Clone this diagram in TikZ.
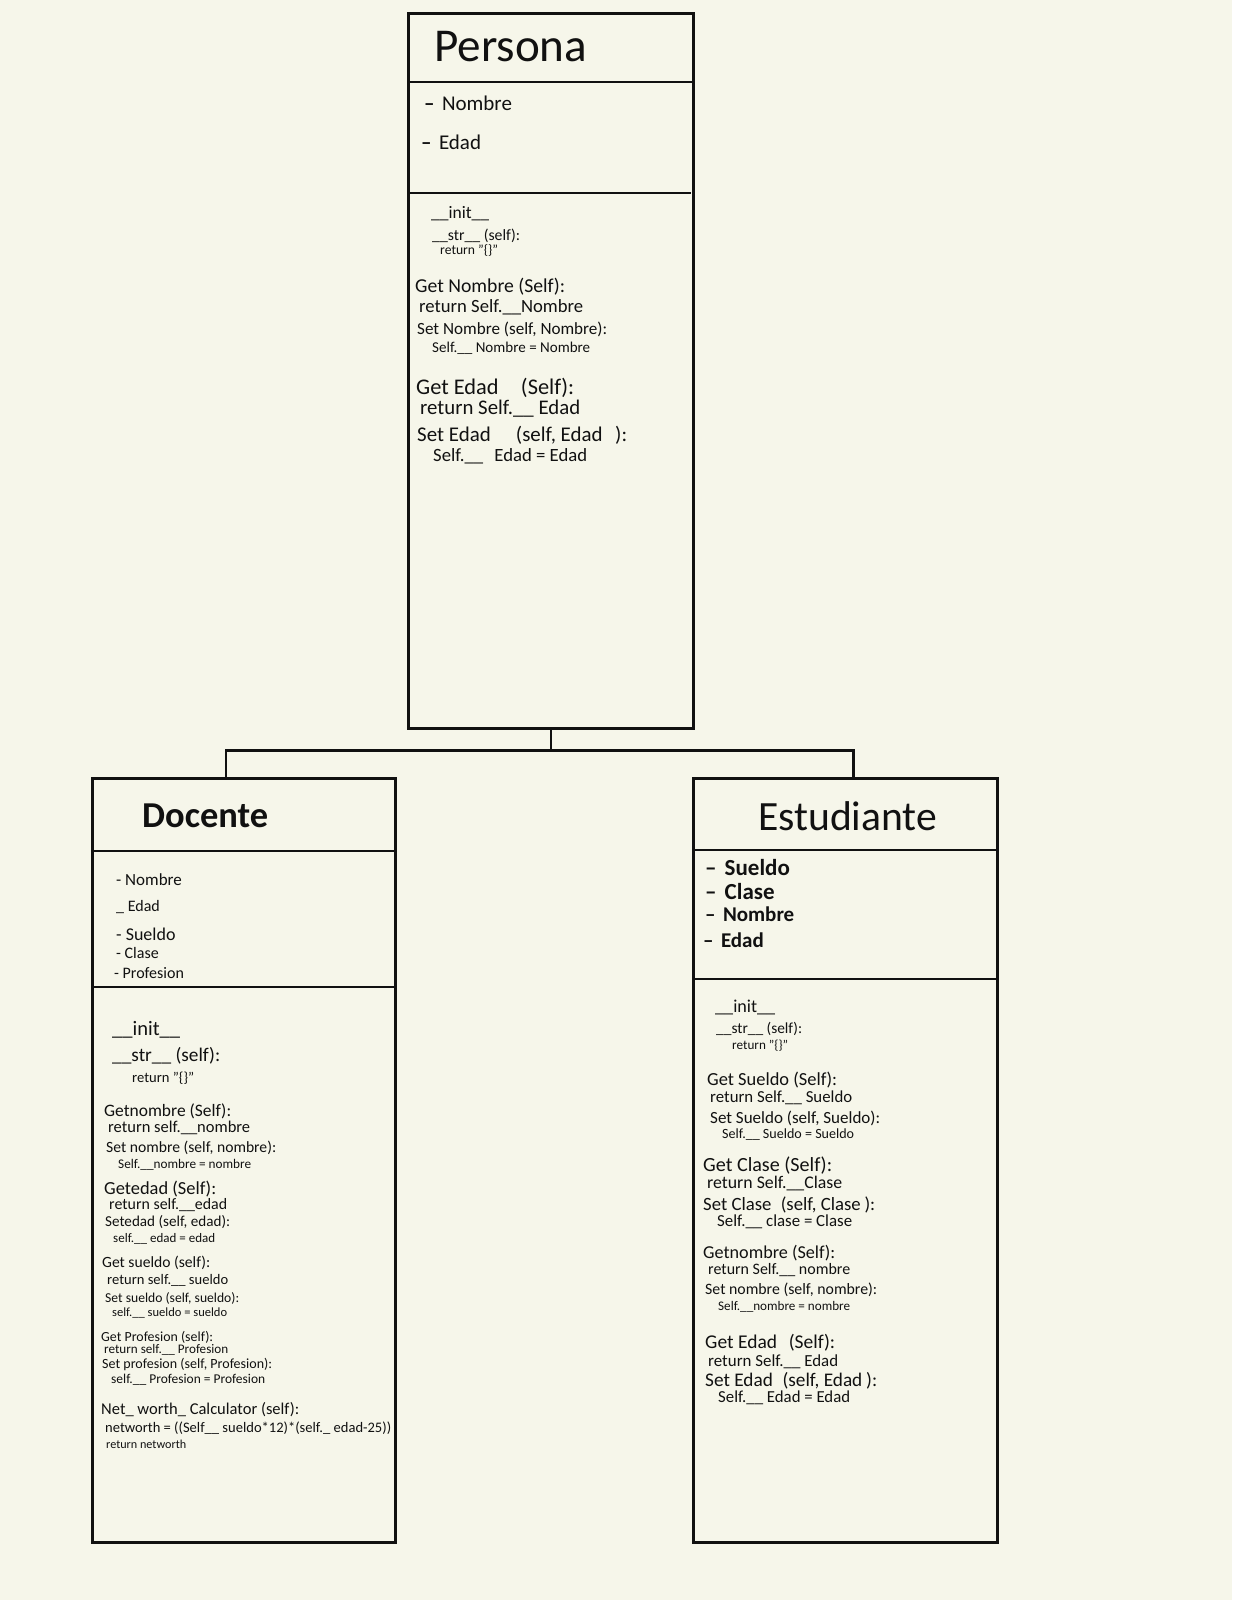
\documentclass[tikz,border=0pt]{standalone}
\usepackage{fontspec}
\setmainfont{Carlito}
\usepackage{graphicx}
\definecolor{paper}{RGB}{246,246,234}
\definecolor{ink}{RGB}{17,17,17}
\newcounter{tcnt}
\newcommand{\tx}[4]{\stepcounter{tcnt}\node[txt] (t\arabic{tcnt}) at (#1,#2) {\resizebox{#3pt}{!}{#4}};}
\newcommand{\fx}[4]{\stepcounter{tcnt}\node[txt, font=#3] (t\arabic{tcnt}) at (#1,#2) {#4};}
\newcommand{\dsh}{\textbf{–}\hspace{0.35em}}
\tikzset{
  cls/.style={draw=ink, line width=2.6pt, fill=paper, anchor=north west, inner sep=0pt},
  conn/.style={draw=ink, line width=2.4pt},
  divh/.style={draw=ink, line width=2.6pt},
  diva/.style={draw=ink, line width=1.6pt},
  txt/.style={anchor=west, inner sep=0pt, text=ink},
  ttl/.style={anchor=base west, inner sep=0pt, text=ink}
}
\begin{document}
\begin{tikzpicture}[x=1pt, y=-1pt]
\fill[paper] (0,0) rectangle (1232,1600);
\useasboundingbox (0,0) rectangle (1232,1600);

% class boxes
\node[cls, minimum width=285pt, minimum height=715pt] (persona) at (407,12) {};
\node[cls, minimum width=303pt, minimum height=764pt] (docente) at (91,777) {};
\node[cls, minimum width=304pt, minimum height=764pt] (estudiante) at (692,777) {};

% dividers
\draw[divh] ([yshift=-70pt]persona.north west) -- ([yshift=-70pt]persona.north east);
\draw[diva] ([yshift=-181pt]persona.north west) -- ([yshift=-181pt,xshift=-4pt]persona.north east);
\draw[divh] ([yshift=-74pt]docente.north west) -- ([yshift=-74pt]docente.north east);
\draw[diva] ([yshift=-210pt]docente.north west) -- ([yshift=-210pt]docente.north east);
\draw[divh] ([yshift=-73pt]estudiante.north west) -- ([yshift=-73pt]estudiante.north east);
\draw[diva] ([yshift=-202pt]estudiante.north west) -- ([yshift=-202pt]estudiante.north east);

% connectors
\draw[conn] (persona.south) -- ++(0,21) coordinate (bus);
\draw[conn] (bus) -| ([xshift=-18pt]docente.north);
\draw[conn] (bus) -| ([xshift=8pt]estudiante.north);

% ---------- Persona ----------
\node[ttl] (ptitle) at (434,62) {\resizebox{153pt}{!}{Persona}};
\fx{424}{103}{\fontsize{21}{24}\selectfont}{\dsh Nombre}
\fx{421}{142}{\fontsize{21}{24}\selectfont}{\dsh Edad}
\tx{431}{214}{58}{\_\_init\_\_}
\tx{432}{236}{88}{\_\_str\_\_ (self):}
\tx{440}{251}{58}{return "\{\}"}
\tx{415}{287}{150}{Get Nombre (Self):}
\tx{419}{307}{164}{return Self.\_\_Nombre}
\tx{417}{329}{190}{Set Nombre (self, Nombre):}
\tx{432}{348}{158}{Self.\_\_ Nombre = Nombre}
\tx{416}{388}{158}{Get Edad\hspace{1em}(Self):}
\tx{420}{409}{160}{return Self.\_\_ Edad}
\tx{417}{435}{210}{Set Edad\hspace{1.2em}(self, Edad\hspace{0.6em}):}
\tx{433}{456}{154}{Self.\_\_\hspace{0.6em}Edad = Edad}

% ---------- Docente ----------
\node[ttl] (dtitle) at (142,827) {\resizebox{126pt}{!}{\bfseries Docente}};
\fx{116}{880}{\fontsize{17}{20}\selectfont}{- Nombre}
\fx{116}{907}{\fontsize{16}{20}\selectfont}{\_ Edad}
\fx{116}{934}{\fontsize{18}{20}\selectfont}{- Sueldo}
\fx{116}{953}{\fontsize{16}{20}\selectfont}{- Clase}
\fx{114}{973}{\fontsize{16}{20}\selectfont}{- Profesion}
\tx{112}{1030}{68}{\_\_init\_\_}
\tx{112}{1056}{108}{\_\_str\_\_ (self):}
\tx{132}{1078}{62}{return "\{\}"}
\tx{104}{1111}{127}{Getnombre (Self):}
\tx{108}{1128}{142}{return self.\_\_nombre}
\tx{106}{1148}{170}{Set nombre (self, nombre):}
\tx{118}{1165}{133}{Self.\_\_nombre = nombre}
\tx{104}{1189}{112}{Getedad (Self):}
\tx{109}{1205}{118}{return self.\_\_edad}
\tx{105}{1222}{125}{Setedad (self, edad):}
\tx{113}{1239}{102}{self.\_\_ edad = edad}
\tx{102}{1263}{108}{Get sueldo (self):}
\tx{107}{1280}{121}{return self.\_\_ sueldo}
\tx{105}{1298}{134}{Set sueldo (self, sueldo):}
\tx{112}{1313}{115}{self.\_\_ sueldo = sueldo}
\tx{101}{1337}{112}{Get Profesion (self):}
\tx{104}{1350}{124}{return self.\_\_ Profesion}
\tx{102}{1364}{170}{Set profesion (self, Profesion):}
\tx{111}{1380}{154}{self.\_\_ Profesion = Profesion}
\tx{101}{1410}{198}{Net\_ worth\_ Calculator (self):}
\tx{105}{1428}{286}{networth = ((Self\_\_ sueldo*12)*(self.\_ edad-25))}
\tx{106}{1444}{80}{return networth}

% ---------- Estudiante ----------
\node[ttl] (etitle) at (758,830) {\resizebox{179pt}{!}{Estudiante}};
\fx{705}{868}{\fontsize{23}{26}\selectfont\bfseries}{\dsh Sueldo}
\fx{705}{892}{\fontsize{23}{26}\selectfont\bfseries}{\dsh Clase}
\fx{705}{914}{\fontsize{21}{26}\selectfont\bfseries}{\dsh Nombre}
\fx{703}{940}{\fontsize{21}{26}\selectfont\bfseries}{\dsh Edad}
\tx{715}{1007}{60}{\_\_init\_\_}
\tx{716}{1029}{86}{\_\_str\_\_ (self):}
\tx{732}{1046}{56}{return "\{\}"}
\tx{707}{1080}{130}{Get Sueldo (Self):}
\tx{710}{1098}{142}{return Self.\_\_ Sueldo}
\tx{710}{1118}{170}{Set Sueldo (self, Sueldo):}
\tx{722}{1135}{132}{Self.\_\_ Sueldo = Sueldo}
\tx{703}{1166}{129}{Get Clase (Self):}
\tx{707}{1184}{135}{return Self.\_\_Clase}
\tx{703}{1205}{172}{Set Clase\hspace{0.5em}(self, Clase\hspace{0.2em}):}
\tx{717}{1222}{135}{Self.\_\_ clase = Clase}
\tx{703}{1253}{132}{Getnombre (Self):}
\tx{708}{1270}{142}{return Self.\_\_ nombre}
\tx{705}{1290}{172}{Set nombre (self, nombre):}
\tx{718}{1307}{132}{Self.\_\_nombre = nombre}
\tx{705}{1343}{130}{Get Edad\hspace{0.6em}(Self):}
\tx{708}{1362}{130}{return Self.\_\_ Edad}
\tx{705}{1381}{172}{Set Edad\hspace{0.5em}(self, Edad\hspace{0.2em}):}
\tx{718}{1398}{132}{Self.\_\_ Edad = Edad}
\end{tikzpicture}
\end{document}
